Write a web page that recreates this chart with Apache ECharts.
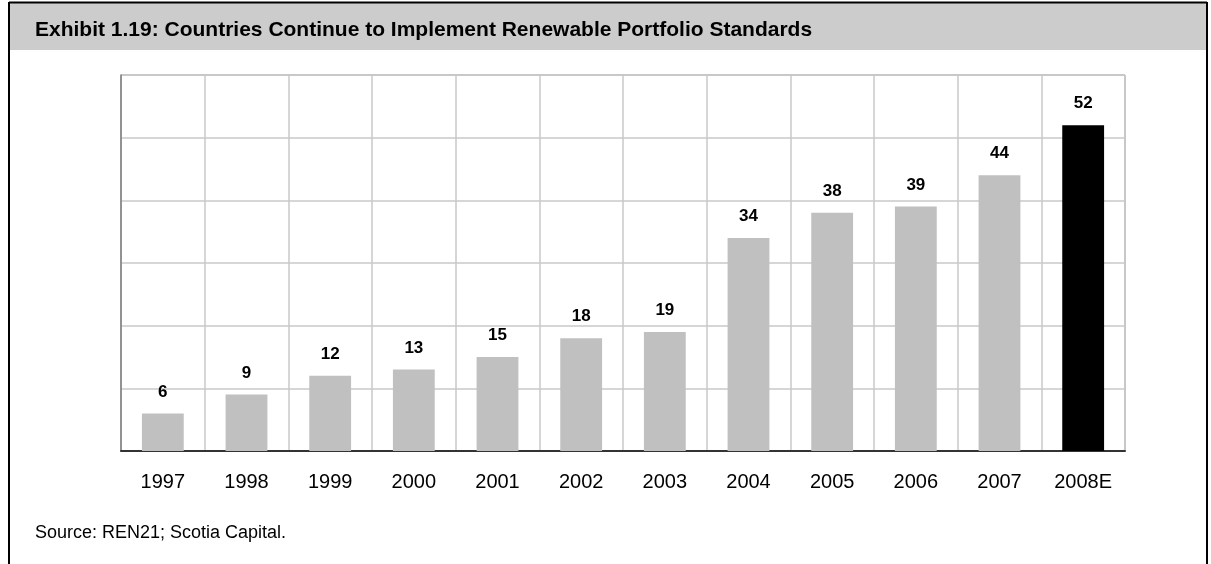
<!DOCTYPE html>
<html>
<head>
<meta charset="utf-8">
<script src="https://cdn.jsdelivr.net/npm/echarts@6/dist/echarts.min.js"></script>
<style>
  html, body { margin: 0; padding: 0; background: #fff; }
  #chart { width: 1211px; height: 564px; }
</style>
</head>
<body>
<div id="chart"></div>
<script>
const years = ['1997', '1998', '1999', '2000', '2001', '2002', '2003', '2004', '2005', '2006', '2007', '2008E']
const countries = [6, 9, 12, 13, 15, 18, 19, 34, 38, 39, 44, 52]
const estimateYear = '2008E'

const font = '"Liberation Sans", Arial, sans-serif'

const chart = echarts.init(document.getElementById('chart'), null, { renderer: 'canvas' })

chart.setOption({
  animation: false,
  backgroundColor: '#fff',
  textStyle: { fontFamily: font },
  title: [
    {
      text: 'Exhibit 1.19: Countries Continue to Implement Renewable Portfolio Standards',
      left: 30,
      top: 15,
      textStyle: { fontSize: 21, fontWeight: 'bold', color: '#000', fontFamily: font }
    },
    {
      text: 'Source: REN21; Scotia Capital.',
      left: 30,
      top: 519,
      textStyle: { fontSize: 18, fontWeight: 'normal', color: '#000', fontFamily: font }
    }
  ],
  graphic: [
    // grey title band
    { type: 'rect', z: -1, shape: { x: 9, y: 3, width: 1198, height: 47 }, style: { fill: '#cccccc' } },
    // frame
    { type: 'line', shape: { x1: 9, y1: 2.5, x2: 1207, y2: 2.5 }, style: { stroke: '#000', lineWidth: 2 } },
    { type: 'line', shape: { x1: 9, y1: 2, x2: 9, y2: 564 }, style: { stroke: '#000', lineWidth: 2 } },
    { type: 'line', shape: { x1: 1207, y1: 2, x2: 1207, y2: 564 }, style: { stroke: '#000', lineWidth: 2 } }
  ],
  grid: {
    left: 121,
    right: 86,
    top: 75,
    bottom: 113,
    show: true,
    borderColor: '#909090',
    borderWidth: 1,
    containLabel: false
  },
  xAxis: {
    type: 'category',
    data: years,
    axisTick: { show: false },
    axisLine: { lineStyle: { color: '#333', width: 2 } },
    axisLabel: { fontSize: 20, color: '#000', margin: 21, fontFamily: font },
    splitLine: { show: true, lineStyle: { color: '#c8c8c8', width: 1.5 } }
  },
  yAxis: {
    type: 'value',
    min: 0,
    max: 60,
    interval: 10,
    axisLabel: { show: false },
    axisTick: { show: false },
    axisLine: { show: true, lineStyle: { color: '#808080', width: 1.5 } },
    splitLine: { lineStyle: { color: '#c8c8c8', width: 1.5 } }
  },
  series: [
    {
      type: 'bar',
      barWidth: '50%',
      data: countries.map((v, i) => ({
        value: v,
        itemStyle: { color: years[i] === estimateYear ? '#000' : '#c0c0c0' }
      })),
      label: {
        show: true,
        position: 'top',
        distance: 13,
        fontSize: 17,
        fontWeight: 'bold',
        color: '#000',
        fontFamily: font
      }
    }
  ]
})
</script>
</body>
</html>
